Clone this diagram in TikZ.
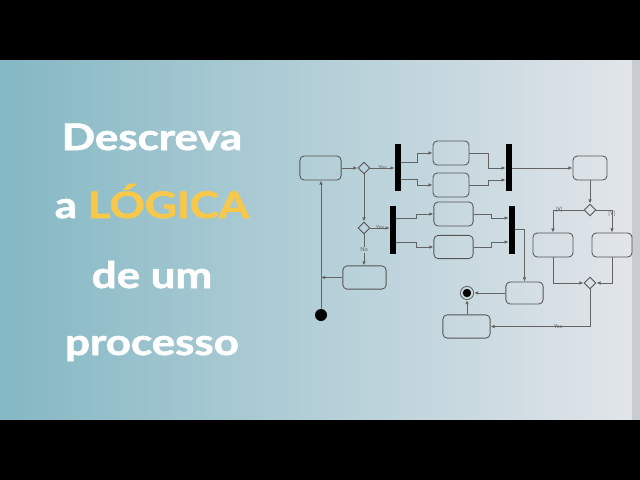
\documentclass[tikz,border=0pt]{standalone}
\usepackage{fontspec}
\setmainfont{Lato}
\newfontfamily\headfont{Lato}[FakeBold=1.6]
\usetikzlibrary{arrows.meta,shapes.geometric}

\definecolor{bgleft}{RGB}{132,184,196}
\definecolor{bgright}{RGB}{226,229,234}
\definecolor{edgestrip}{RGB}{200,204,210}
\definecolor{gold}{RGB}{248,200,74}
\definecolor{wire}{RGB}{100,100,100}
\definecolor{rim}{RGB}{85,85,85}

\begin{document}
\begin{tikzpicture}[x=0.025cm, y=-0.025cm,
    act/.style={draw=rim, rounded corners=3pt, line width=0.6pt, minimum height=0.6cm, inner sep=0pt},
    choice/.style={draw=rim, diamond, line width=0.6pt, minimum size=0.3cm, inner sep=0pt},
    bar/.style={fill=black, minimum width=0.15cm, minimum height=1.18cm, inner sep=0pt},
    flow/.style={draw=wire, line width=0.6pt, -{Latex[length=3pt,width=2.6pt]}},
    lbl/.style={font=\fontsize{4}{4}\selectfont, text=wire, inner sep=0.5pt},
    title/.style={font=\fontsize{26}{26}\headfont\bfseries, text=white, anchor=base, xscale=1.2}]
  \useasboundingbox (0,0) rectangle (640,480);
  % backdrop
  \shade[left color=bgleft, right color=bgright] (0,60) rectangle (632,420);
  \fill[edgestrip] (632,60) rectangle (640,420);
  \fill[black] (0,0) rectangle (640,60);
  \fill[black] (0,420) rectangle (640,480);
  % title
  \node[title] (l1) at (152,150) {Descreva};
  \node[title] (l2) at (152,218) {a \textcolor{gold}{LÓGICA}};
  \node[title] (l3) at (152,288) {de um};
  \node[title] (l4) at (152,355) {processo};
  % activity nodes
  \node[circle, fill=black, minimum size=0.3cm, inner sep=0pt] (init) at (321,315) {};
  \node[act, minimum width=1.03cm] (A) at (320.5,168) {};
  \node[choice] (d1) at (364,168) {};
  \node[bar] (f1) at (398,167.5) {};
  \node[act, minimum width=0.9cm] (t1) at (451,153) {};
  \node[act, minimum width=0.9cm] (t2) at (451,185) {};
  \node[bar] (j1) at (509,167.5) {};
  \node[act, minimum width=0.85cm] (B) at (590,168) {};
  \node[choice] (d3) at (590,210) {};
  \node[act, minimum width=1cm] (C) at (553,245) {};
  \node[act, minimum width=1cm] (D) at (612,245) {};
  \node[choice] (d4) at (590,283) {};
  \node[act, minimum width=1.18cm, minimum height=0.58cm] (E) at (466.5,326.5) {};
  \node[act, minimum width=0.93cm, minimum height=0.55cm] (F) at (524.5,293) {};
  \node[circle, draw=wire, line width=0.6pt, minimum size=0.33cm, inner sep=0pt,
        path picture={\fill[black] (path picture bounding box.center) circle (0.105cm);}] (fin) at (467,293) {};
  \node[choice] (d2) at (364,228) {};
  \node[bar] (f2) at (393,230) {};
  \node[act, minimum width=0.98cm] (g1) at (453.5,214) {};
  \node[act, minimum width=0.98cm, minimum height=0.58cm] (g2) at (453.5,247) {};
  \node[bar] (j2) at (512,230) {};
  \node[act, minimum width=1.08cm, minimum height=0.58cm] (I) at (364.5,277.5) {};
  % upper branch
  \draw[flow] (init) -- (init |- A.south);
  \draw[flow] (A) -- (d1);
  \draw[flow] (d1) -- node[lbl]{Yes} (d1 -| f1.west);
  \draw[flow] (f1.east |- 0,162) -- (417,162) |- (t1);
  \draw[flow] (f1.east |- 0,179) -- (417,179) |- (t2);
  \draw[flow] (t1) -| (488,168) -- (j1.west |- 0,168);
  \draw[flow] (t2) -| (488,180) -- (j1.west |- 0,180);
  \draw[flow] (j1.east |- B) -- (B);
  \draw[flow] (B) -- (d3);
  \draw[flow] (d3) -| node[lbl, pos=0.4]{[X]} (C);
  \draw[flow] (d3) -| node[lbl, pos=0.58]{[Y]} (D);
  \draw[flow] (C) |- (d4);
  \draw[flow] (D) |- (d4);
  \draw[flow] (d4) |- node[lbl, pos=0.66]{Yes} (E);
  % lower branch
  \draw[flow] (d1) -- (d2);
  \draw[flow] (d2) -- node[lbl]{Yes} (d2 -| f2.west);
  \draw[flow] (f2.east |- 0,218) -- (416,218) |- (g1);
  \draw[flow] (f2.east |- 0,242) -- (416,242) |- (g2);
  \draw[flow] (g1) -| (491,218) -- (j2.west |- 0,218);
  \draw[flow] (g2) -| (491,242) -- (j2.west |- 0,242);
  \draw[flow] (j2.east |- 0,229) -| (F);
  \draw[flow] (F) -- (fin);
  \draw[flow] (E.north -| fin) -- (fin);
  \draw[flow] (d2) -- node[lbl, fill=bgleft!45!bgright]{No} (d2 |- I.north);
  \draw[flow] (I) -- (I -| init);
\end{tikzpicture}
\end{document}
